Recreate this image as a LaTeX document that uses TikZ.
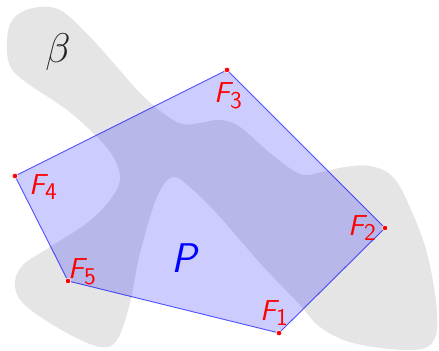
\documentclass[tikz,border=0pt]{standalone}
\begin{document}
\begin{tikzpicture}[x=0.5pt,y=-0.5pt,
  vlabel/.style={text=red,font=\Large\sffamily\itshape,inner sep=0pt},
  vdot/.style={circle,fill=red,draw=white,line width=0.3pt,inner sep=0pt,minimum size=2.8pt}]
\useasboundingbox (0,0) rectangle (439,351);
\fill[gray!20] plot[smooth cycle,tension=0.6] coordinates {
(33,8) (60,10) (90,37) (117,67) (140,93) (163,113) (182,124) (200,123) (220,120) (240,127) (270,153) (300,174) (322,172) (345,167) (370,166) (392,176) (408,203) (427,253) (437,313) (432,343) (407,350) (353,343) (320,327) (300,305) (260,263) (220,217) (193,190) (173,177) (157,197) (140,253) (130,303) (117,340) (100,347) (67,333) (27,307) (15,287) (22,266) (50,247) (87,223) (110,200) (120,180) (115,160) (100,140) (67,110) (27,83) (10,66) (7,40) (13,19)};
\node[font=\huge,text=black!85] (beta) at (58,52) {$\beta$};
\coordinate (F1) at (279,333);
\coordinate (F2) at (385,228);
\coordinate (F3) at (227,70);
\coordinate (F4) at (15,176);
\coordinate (F5) at (68,281);
\filldraw[draw=blue,draw opacity=0.65,line width=0.45pt,fill=blue,fill opacity=0.2] (F1) -- (F2) -- (F3) -- (F4) -- (F5) -- cycle;
\foreach \p in {F1,F2,F3,F4,F5} \node[vdot] at (\p) {};
\newcommand{\vsub}[1]{\raisebox{-0.45ex}{\large\upshape #1}}
\node[vlabel] (l1) at (274,313) {F\vsub{1}};
\node[vlabel] (l2) at (362,228) {F\vsub{2}};
\node[vlabel] (l3) at (228,96) {F\vsub{3}};
\node[vlabel] (l4) at (43,187) {F\vsub{4}};
\node[vlabel] (l5) at (82,272) {F\vsub{5}};
\node[text=blue,font=\huge\sffamily\itshape] (P) at (184,258) {P};
\end{tikzpicture}
\end{document}
